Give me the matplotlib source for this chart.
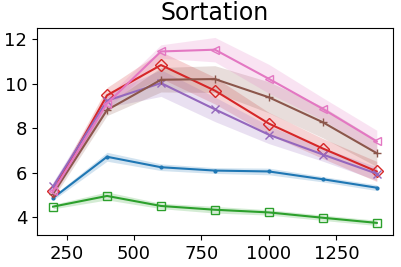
import numpy as np
import matplotlib
matplotlib.use('Agg')
import matplotlib.pyplot as plt

x = [200, 400, 600, 800, 1000, 1200, 1400]

blue = [4.86, 6.71, 6.24, 6.09, 6.05, 5.70, 5.32]
blue_err = [0.10, 0.20, 0.15, 0.13, 0.15, 0.12, 0.13]

green = [4.47, 4.95, 4.50, 4.33, 4.21, 3.97, 3.74]
green_err = [0.10, 0.18, 0.12, 0.15, 0.12, 0.12, 0.12]

red = [5.17, 9.47, 10.83, 9.68, 8.20, 7.08, 6.05]
red_err = [0.20, 0.35, 0.60, 0.60, 0.50, 0.45, 0.45]

purple = [5.38, 9.23, 10.02, 8.84, 7.70, 6.81, 5.95]
purple_err = [0.20, 0.30, 0.60, 0.55, 0.40, 0.30, 0.30]

brown = [5.05, 8.81, 10.17, 10.20, 9.38, 8.26, 6.87]
brown_err = [0.20, 0.25, 0.55, 0.60, 0.70, 0.70, 0.60]

pink = [5.15, 9.10, 11.44, 11.52, 10.21, 8.86, 7.40]
pink_err = [0.20, 0.30, 0.30, 0.55, 0.65, 0.50, 0.50]

xticks = [250, 500, 750, 1000, 1250]
yticks = [4, 6, 8, 10, 12]

series = [
    (blue, blue_err, 'tab:blue', '.', 'tab:blue', 4),
    (green, green_err, 'tab:green', 's', 'none', 6),
    (red, red_err, 'tab:red', 'D', 'none', 6),
    (purple, purple_err, 'tab:purple', 'x', 'tab:purple', 6),
    (brown, brown_err, 'tab:brown', '+', 'tab:brown', 6),
    (pink, pink_err, 'tab:pink', '<', 'none', 6),
]

fig = plt.figure(figsize=(4.01, 2.67), dpi=100)
ax = fig.add_axes([0.092, 0.12, 0.888, 0.775])

for y, e, c, m, fc, ms in series:
    y = np.array(y)
    e = np.array(e)
    ax.plot(x, y, color=c, marker=m, markerfacecolor=fc, markersize=ms, linewidth=1.5)
    ax.fill_between(x, y - e, y + e, color=c, alpha=0.2, linewidth=0)

ax.set_title('Sortation', fontsize=17)
ax.tick_params(labelsize=13)
ax.set_xticks(xticks)
ax.set_yticks(yticks)

fig.savefig('out.png', dpi=100)
